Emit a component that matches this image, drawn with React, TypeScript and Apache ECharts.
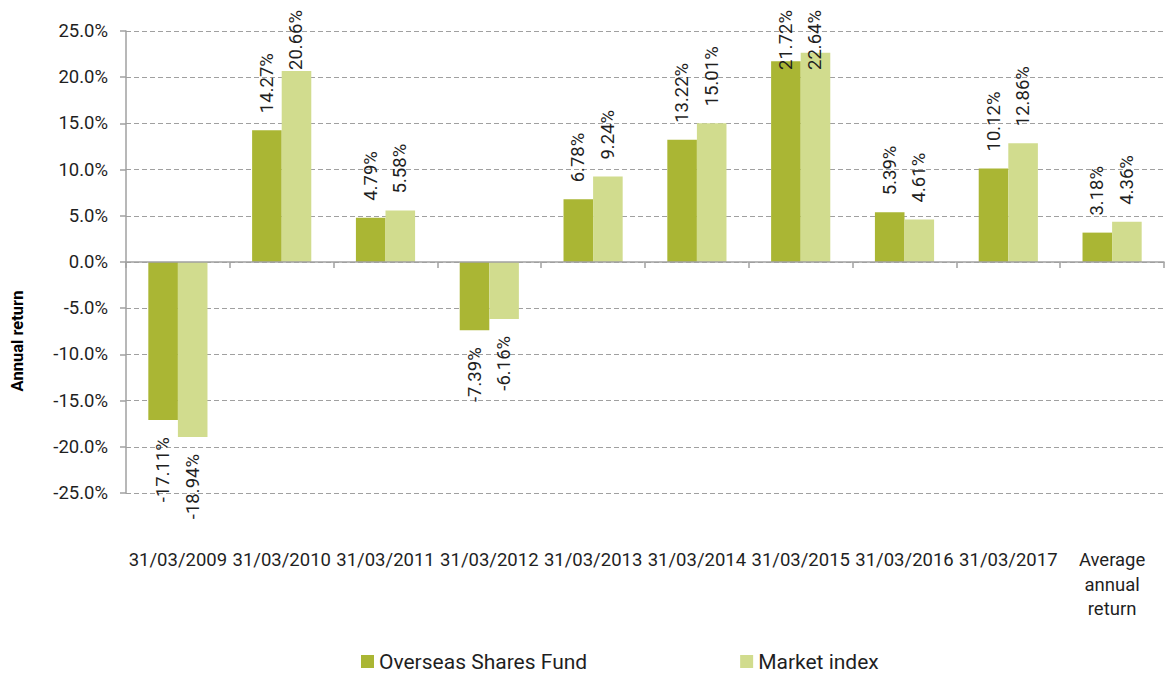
import React, { useEffect, useRef } from "react";
import * as echarts from "echarts";

const categories = [
  "31/03/2009",
  "31/03/2010",
  "31/03/2011",
  "31/03/2012",
  "31/03/2013",
  "31/03/2014",
  "31/03/2015",
  "31/03/2016",
  "31/03/2017",
  "Average\nannual\nreturn",
];
const fundValues = [-17.11, 14.27, 4.79, -7.39, 6.78, 13.22, 21.72, 5.39, 10.12, 3.18];
const marketValues = [-18.94, 20.66, 5.58, -6.16, 9.24, 15.01, 22.64, 4.61, 12.86, 4.36];
const seriesNames = ["Overseas Shares Fund", "Market index"];
const yMin = -25;
const yMax = 25;
const yStep = 5;

const FONT = "Roboto, 'Noto Sans', sans-serif";
const FUND_COLOR = "#AAB634";
const MARKET_COLOR = "#D1DC8E";
const GRID_COLOR = "#a0a0a0";
const TEXT_COLOR = "#1f1f1f";

function toItems(values: number[]) {
  return values.map((v) => ({
    value: v,
    label:
      v >= 0
        ? { position: "top", align: "left" }
        : { position: "bottom", align: "right" },
  }));
}

export default function App() {
  const ref = useRef<HTMLDivElement>(null);

  useEffect(() => {
    if (!ref.current) return;
    const chart = echarts.init(ref.current, undefined, { renderer: "svg" });

    const labelCfg = {
      show: true,
      rotate: 90,
      verticalAlign: "middle",
      distance: 17,
      color: TEXT_COLOR,
      fontFamily: FONT,
      fontSize: 18.5,
      formatter: (p: any) => `${Number(p.value).toFixed(2)}%`,
    };

    chart.setOption({
      animation: false,
      backgroundColor: "#ffffff",
      textStyle: { fontFamily: FONT },
      grid: { left: 126, right: 3, top: 31, bottom: 182, containLabel: false },
      legend: {
        left: 356,
        top: 646,
        icon: "rect",
        itemWidth: 13,
        itemHeight: 13,
        itemGap: 153,
        textStyle: { fontFamily: FONT, fontSize: 21, color: TEXT_COLOR },
        data: seriesNames,
      },
      graphic: [
        {
          type: "text",
          x: 17,
          y: 341,
          rotation: Math.PI / 2,
          style: {
            text: "Annual return",
            font: `bold 16.5px ${FONT}`,
            fill: "#000",
            textAlign: "center",
            textVerticalAlign: "middle",
          },
        },
      ],
      xAxis: [
        {
          type: "category",
          data: categories,
          position: "bottom",
          axisLine: { show: true, onZero: true, lineStyle: { color: GRID_COLOR, width: 1.5 } },
          axisTick: { show: true, length: 6, lineStyle: { color: GRID_COLOR, width: 1.5 } },
          axisLabel: { show: false },
          splitLine: { show: false },
          z: 10,
        },
        {
          type: "category",
          data: categories,
          position: "bottom",
          axisLine: { show: false, onZero: false },
          axisTick: { show: false },
          axisLabel: {
            show: true,
            interval: 0,
            margin: 55,
            color: TEXT_COLOR,
            fontFamily: FONT,
            fontSize: 18.5,
            lineHeight: 24.5,
          },
          splitLine: { show: false },
        },
      ],
      yAxis: {
        type: "value",
        min: yMin,
        max: yMax,
        interval: yStep,
        axisLine: { show: true, lineStyle: { color: GRID_COLOR, width: 1.5 } },
        axisTick: { show: true, length: 6, lineStyle: { color: GRID_COLOR, width: 1.5 } },
        axisLabel: {
          margin: 18,
          color: TEXT_COLOR,
          fontFamily: FONT,
          fontSize: 18.5,
          formatter: (v: number) => `${v.toFixed(1)}%`,
        },
        splitLine: {
          show: true,
          lineStyle: { color: GRID_COLOR, type: [5, 3], width: 1.2 },
        },
      },
      labelLayout: (params: any) => {
        const r = params.labelRect;
        if (r && r.y < 10) {
          return { y: 10 + r.height };
        }
        return {};
      },
      series: [
        {
          name: seriesNames[0],
          type: "bar",
          xAxisIndex: 0,
          data: toItems(fundValues),
          itemStyle: { color: FUND_COLOR },
          barGap: "0%",
          barCategoryGap: "43%",
          label: labelCfg,
        },
        {
          name: seriesNames[1],
          type: "bar",
          xAxisIndex: 0,
          data: toItems(marketValues),
          itemStyle: { color: MARKET_COLOR },
          barGap: "0%",
          barCategoryGap: "43%",
          label: labelCfg,
        },
      ],
    });

    return () => chart.dispose();
  }, []);

  return (
    <div
      ref={ref}
      style={{ position: "fixed", left: 0, top: 0, width: 1167, height: 675, background: "#fff" }}
    />
  );
}
